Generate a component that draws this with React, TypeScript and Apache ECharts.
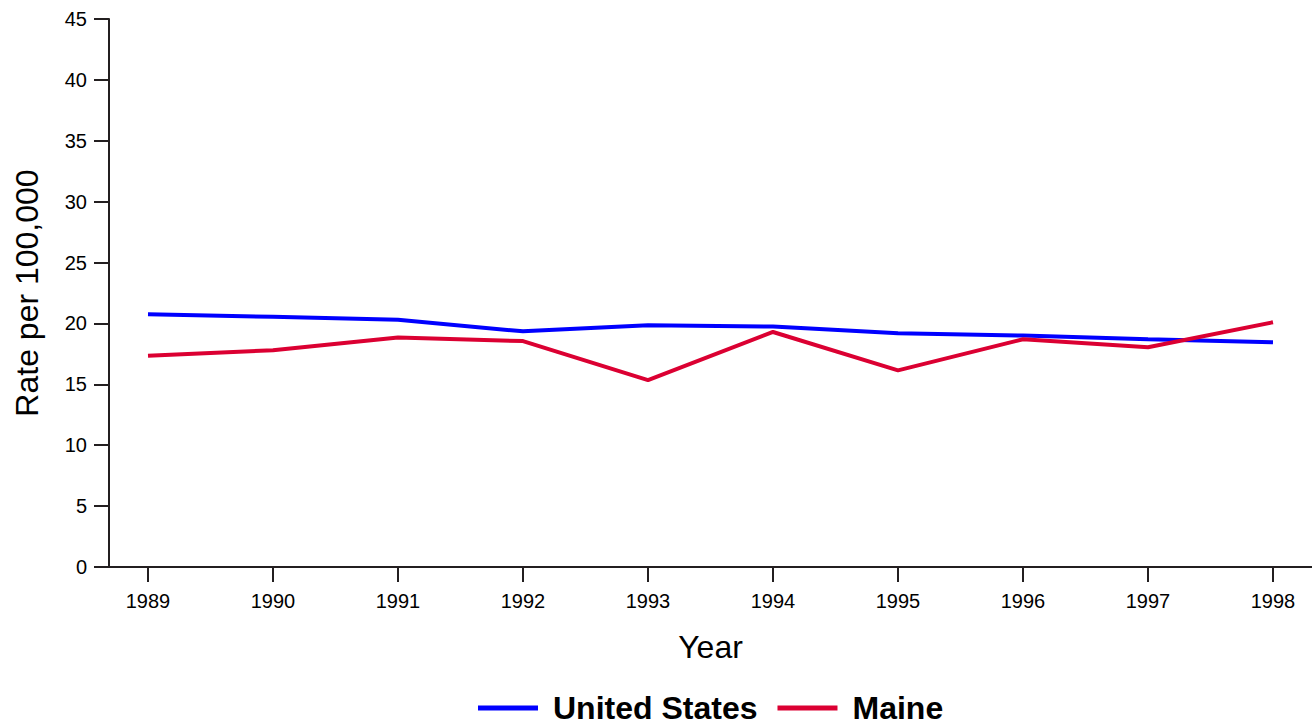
import React, { useEffect, useRef } from "react";
import * as echarts from "echarts";

const years = [1989, 1990, 1991, 1992, 1993, 1994, 1995, 1996, 1997, 1998];
const unitedStates = [20.75, 20.55, 20.3, 19.35, 19.85, 19.75, 19.2, 19.0, 18.7, 18.45];
const maine = [17.35, 17.8, 18.85, 18.55, 15.35, 19.3, 16.15, 18.7, 18.05, 20.1];
const yTicks = [0, 5, 10, 15, 20, 25, 30, 35, 40, 45];

const FONT = "Liberation Sans, Arial, Helvetica, sans-serif";
const AXIS_COLOR = "#231F20";

export default function App() {
  const ref = useRef<HTMLDivElement>(null);
  useEffect(() => {
    if (!ref.current) return;
    const chart = echarts.init(ref.current, undefined, { renderer: "svg" });
    const pxPerYear = 125;
    const xMin = years[0] - 39 / pxPerYear;
    const xMax = xMin + 1203 / pxPerYear;
    chart.setOption({
      animation: false,
      backgroundColor: "#ffffff",
      textStyle: { fontFamily: FONT },
      grid: { left: 109, right: 0, top: 19, bottom: 160, containLabel: false },
      legend: {
        left: 478,
        top: 692,
        padding: 0,
        itemWidth: 60,
        itemHeight: 5,
        itemGap: 20,
        icon: "rect",
        textStyle: {
          fontFamily: FONT,
          fontSize: 32,
          lineHeight: 30,
          fontWeight: "bold",
          color: "#000",
          padding: [0, 0, 0, 10],
        },
        data: ["United States", "Maine"],
      },
      xAxis: {
        type: "value",
        min: xMin,
        max: xMax,
        name: "Year",
        nameLocation: "middle",
        nameGap: 64,
        nameTextStyle: { fontFamily: FONT, fontSize: 32, color: "#000" },
        splitLine: { show: false },
        axisLine: { show: true, onZero: false, lineStyle: { color: AXIS_COLOR, width: 2 } },
        axisTick: {
          show: true,
          length: 15,
          lineStyle: { color: AXIS_COLOR, width: 2 },
          customValues: years,
        },
        axisLabel: {
          margin: 24,
          fontFamily: FONT,
          fontSize: 20,
          color: "#000",
          customValues: years,
          formatter: (v: number) => String(Math.round(v)),
        },
      },
      yAxis: {
        type: "value",
        min: 0,
        max: 45,
        interval: 5,
        name: "Rate per 100,000",
        nameLocation: "middle",
        nameGap: 66,
        nameTextStyle: { fontFamily: FONT, fontSize: 32, color: "#000" },
        splitLine: { show: false },
        axisLine: { show: true, lineStyle: { color: AXIS_COLOR, width: 2 } },
        axisTick: { show: true, length: 15, lineStyle: { color: AXIS_COLOR, width: 2 } },
        axisLabel: {
          margin: 22,
          fontFamily: FONT,
          fontSize: 20,
          color: "#000",
          formatter: (v: number) => (yTicks.includes(v) ? String(v) : ""),
        },
      },
      series: [
        {
          name: "United States",
          type: "line",
          data: years.map((y, i) => [y, unitedStates[i]]),
          showSymbol: false,
          symbol: "none",
          lineStyle: { color: "#0000FF", width: 4 },
          itemStyle: { color: "#0000FF" },
        },
        {
          name: "Maine",
          type: "line",
          data: years.map((y, i) => [y, maine[i]]),
          showSymbol: false,
          symbol: "none",
          lineStyle: { color: "#DB0032", width: 4 },
          itemStyle: { color: "#DB0032" },
        },
      ],
    });
    return () => chart.dispose();
  }, []);
  return (
    <div
      ref={ref}
      style={{ position: "fixed", left: 0, top: 0, width: 1312, height: 727, background: "#fff" }}
    />
  );
}
